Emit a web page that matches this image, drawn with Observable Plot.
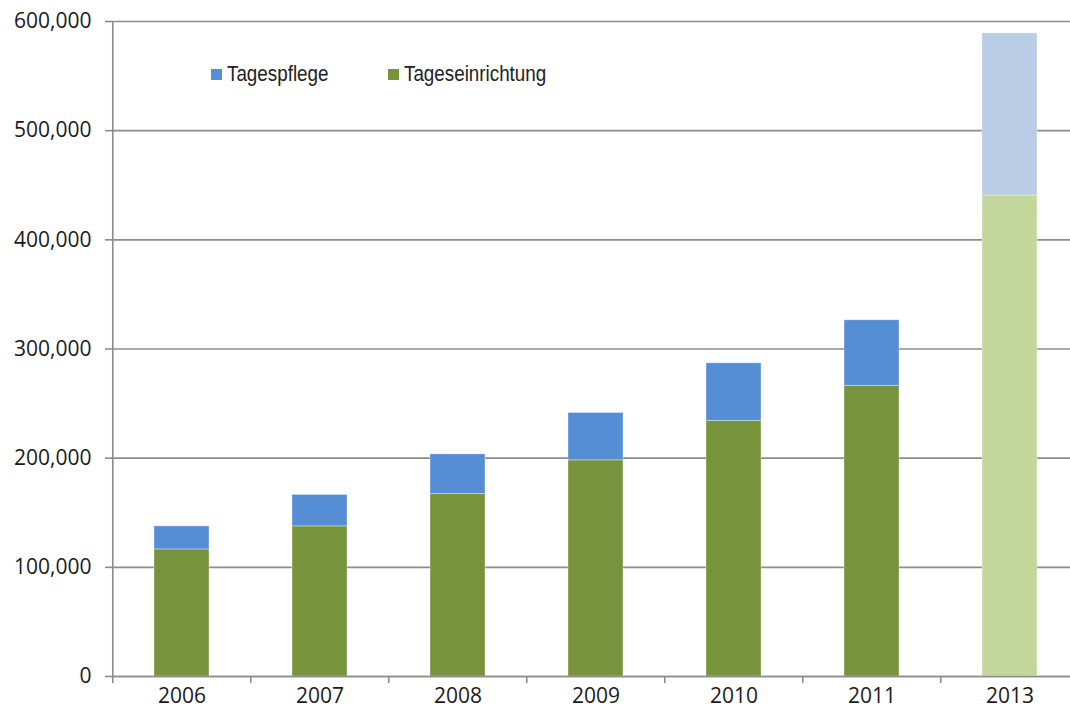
<!DOCTYPE html>
<html>
<head>
<meta charset="utf-8">
<script src="https://cdn.jsdelivr.net/npm/d3@7"></script>
<script src="https://cdn.jsdelivr.net/npm/@observablehq/plot@0.6"></script>
<style>
  html, body { margin: 0; padding: 0; background: #fff; }
  #wrap { position: relative; width: 1070px; height: 713px; overflow: hidden; }
  .litem { position: absolute; top: 63px; height: 22px; display: flex; align-items: center;
           font-family: "Liberation Sans", sans-serif; font-size: 22px; color: #222; line-height: 22px; white-space: nowrap; }
  .litem .sw { width: 11px; height: 11px; margin-right: 5px; flex: none; }
  .litem span { display: inline-block; transform: scaleX(0.855); transform-origin: left center; }
</style>
</head>
<body>
<div id="wrap"></div>
<script>
// Data
const years = ["2006", "2007", "2008", "2009", "2010", "2011", "2013"];
const tageseinrichtung = [116400, 137500, 167200, 198000, 234100, 266200, 440600];
const tagespflege = [21100, 28800, 36300, 43400, 52800, 60100, 148500];
const seriesNames = ["Tageseinrichtung", "Tagespflege"];
const legendNames = ["Tagespflege", "Tageseinrichtung"];
const projectedYears = ["2013"];
const yTicks = [0, 100000, 200000, 300000, 400000, 500000, 600000];

// Colours
const colors = {
  Tageseinrichtung: "#77933C",
  Tagespflege: "#558ED5"
};
const projectedColors = {
  Tageseinrichtung: "#C3D69B",
  Tagespflege: "#B9CDE5"
};

const rows = [];
seriesNames.forEach(s => {
  const vals = s === "Tageseinrichtung" ? tageseinrichtung : tagespflege;
  years.forEach((y, i) => rows.push({year: y, series: s, value: vals[i]}));
});

const W = 1070, H = 713;
const xRange = [111, 1080];
const step = (xRange[1] - xRange[0]) / years.length;

const chart = Plot.plot({
  width: W,
  height: H,
  marginLeft: 111,
  marginRight: 0,
  marginTop: 21,
  marginBottom: 37,
  style: {fontFamily: "'Open Sans', sans-serif", fontSize: "21px", color: "#1a1a1a", background: "#fff"},
  x: {domain: years, range: xRange, paddingInner: 0.6, paddingOuter: 0.3, axis: null},
  y: {domain: [0, 600000], axis: null},
  marks: [
    Plot.gridY(yTicks, {stroke: "#8c8c8c", strokeOpacity: 1, strokeWidth: 1.6}),
    Plot.barY(rows, {
      x: "year",
      y: "value",
      fill: d => (projectedYears.includes(d.year) ? projectedColors : colors)[d.series],
      stroke: "#ffffff",
      strokeOpacity: 0.35,
      strokeWidth: 1
    }),
    // axis lines
    Plot.ruleY([0], {stroke: "#8c8c8c", strokeWidth: 1.6}),
    Plot.ruleX([years[0]], {dx: -step / 2, y1: 0, y2: 600000, stroke: "#8c8c8c", strokeWidth: 1.6}),
    // x tick marks at band boundaries
    Plot.ruleX(years, {dx: -step / 2, y1: 0, y2: 0, insetBottom: -7, stroke: "#8c8c8c", strokeWidth: 1.6}),
    Plot.axisY(yTicks, {
      tickSize: 6,
      tickPadding: 14,
      tickFormat: d3.format(","),
      stroke: "#8c8c8c",
      strokeWidth: 1.6,
      fill: "#1a1a1a",
      fontSize: 21,
      label: null
    }),
    Plot.axisX(years, {
      tickSize: 0,
      tickPadding: 12,
      fill: "#1a1a1a",
      fontSize: 21,
      label: null
    })
  ]
});

const wrap = document.getElementById("wrap");
wrap.appendChild(chart);

const legendLefts = [211, 388];
legendNames.forEach((n, i) => {
  const item = document.createElement("div");
  item.className = "litem";
  item.style.left = legendLefts[i] + "px";
  const sw = document.createElement("div");
  sw.className = "sw";
  sw.style.background = colors[n];
  const t = document.createElement("span");
  t.textContent = n;
  item.appendChild(sw);
  item.appendChild(t);
  wrap.appendChild(item);
});
</script>
</body>
</html>
